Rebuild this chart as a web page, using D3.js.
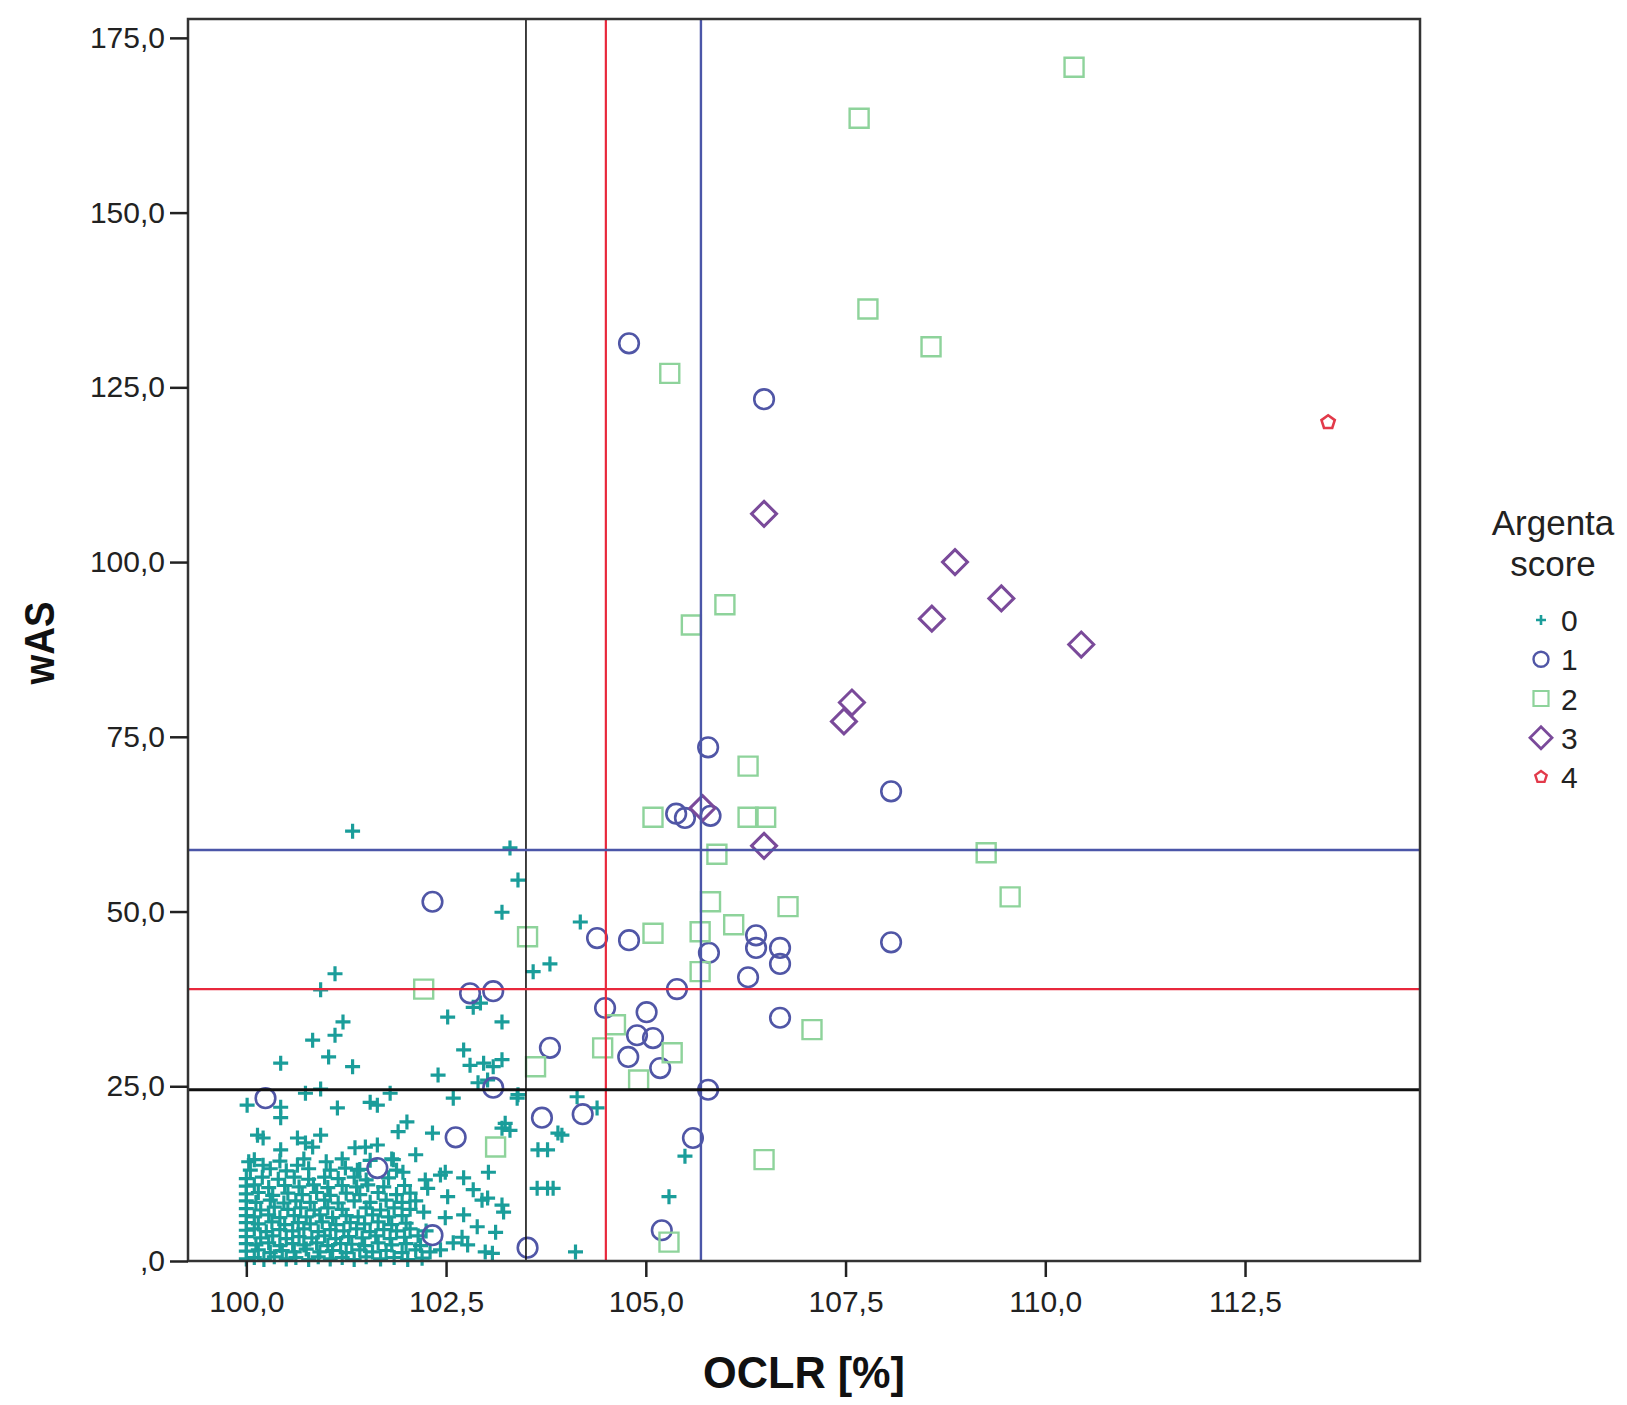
<!DOCTYPE html>
<html><head><meta charset="utf-8">
<script src="https://cdn.jsdelivr.net/npm/d3@7"></script>
<style>body{margin:0;background:#fff;} text{font-family:"Liberation Sans",Arial,sans-serif;}</style>
</head><body><svg id="c" width="1627" height="1405"></svg>
<script>
// ---------- DATA ----------
const xTicks = [100, 102.5, 105, 107.5, 110, 112.5];
const xTickLabels = ["100,0", "102,5", "105,0", "107,5", "110,0", "112,5"];
const yTicks = [0, 25, 50, 75, 100, 125, 150, 175];
const yTickLabels = [",0", "25,0", "50,0", "75,0", "100,0", "125,0", "150,0", "175,0"];
const legendLabels = ["0", "1", "2", "3", "4"];
const refXValues = [103.5, 104.5, 105.69];
const refYValues = [24.5, 38.9, 58.8];

// Argenta score 0 (plus)
const score0 = [
 [101.33,61.5],[103.30,59.1],[103.40,54.5],[103.20,49.9],[104.18,48.5],[103.59,41.4],[103.80,42.5],
 [101.11,41.1],[100.93,38.8],[102.84,36.3],[102.93,36.9],[102.52,34.9],[103.20,34.2],[101.21,34.2],
 [101.11,32.3],[100.83,31.6],[101.03,29.2],[101.33,27.8],[100.43,28.3],[102.72,30.2],[102.80,28.0],
 [102.97,28.3],[103.09,27.8],[103.20,28.8],[102.40,26.6],[103.02,25.9],[102.90,25.5],[103.40,23.8],
 [104.14,23.5],[104.39,21.9],[103.90,18.3],[103.20,19.0],[103.30,18.7],[103.24,19.7],[103.65,15.9],
 [103.77,15.9],[103.64,10.4],[103.77,10.4],[103.84,10.4],[104.12,1.3],[105.49,15.0],[105.29,9.2],
 [103.95,18.0],[102.59,23.3],[103.39,23.3],[102.33,18.3],[103.03,12.7],[102.49,12.7],[102.43,12.3],
 [102.24,11.6],[102.72,11.9],[102.84,10.2],[102.52,9.2],[102.27,10.4],[102.95,8.7],[103.02,9.0],
 [103.20,8.0],[103.22,7.0],[102.22,7.0],[102.49,6.2],[102.72,6.6],[102.89,4.9],[103.12,4.1],
 [102.70,3.4],[102.59,2.6],[102.77,2.3],[102.99,1.3],[103.08,1.1],[102.43,1.6],[101.80,24.0],
 [101.55,22.7],[101.64,22.3],[102.01,19.9],[101.90,18.5],[101.14,21.9],[100.74,24.0],[100.93,24.6],
 [100.01,22.3],[100.43,22.0],[100.43,20.5],[100.14,18.0],[100.21,17.6],[100.43,15.9],[100.64,17.6],
 [100.74,16.9],[100.83,16.3],[100.93,18.0],[100.03,14.2],[100.21,13.7],[100.64,13.7],[101.36,16.2],
 [101.49,16.3],[101.64,16.6],[102.12,15.2],[101.24,13.3],[101.39,13.0],[101.84,14.5],[101.96,12.7],
 [100.0,0.3],[100.1,0.5],[100.22,0.2],[100.35,0.6],[100.5,0.3],[100.62,0.5],[100.78,0.2],[100.9,0.6],
 [101.05,0.3],[101.2,0.5],[101.35,0.2],[101.5,0.6],[101.68,0.3],[101.85,0.5],[102.02,0.2],[102.2,0.4],
 [100.0,1.4],[100.15,1.6],[100.3,1.2],[100.45,1.5],[100.6,1.3],[100.75,1.7],[100.92,1.3],[101.08,1.5],
 [101.25,1.2],[101.42,1.6],[101.58,1.3],[101.75,1.5],[101.95,1.2],[102.12,1.6],[102.3,1.3],
 [100.0,2.5],[100.12,2.3],[100.28,2.6],[100.42,2.2],[100.58,2.5],[100.72,2.3],[100.88,2.6],[101.02,2.2],
 [101.18,2.5],[101.32,2.4],[101.48,2.2],[101.65,2.6],[101.82,2.3],[102.0,2.5],[102.18,2.2],
 [100.0,3.5],[100.18,3.3],[100.33,3.6],[100.5,3.2],[100.66,3.5],[100.82,3.3],[100.98,3.6],[101.12,3.2],
 [101.28,3.5],[101.45,3.3],[101.62,3.6],[101.8,3.2],[101.98,3.4],[102.15,3.6],
 [100.0,4.4],[100.1,4.6],[100.25,4.2],[100.42,4.5],[100.58,4.3],[100.72,4.6],[100.9,4.2],[101.05,4.5],
 [101.22,4.3],[101.38,4.6],[101.55,4.2],[101.72,4.5],[101.88,4.3],[102.05,4.6],[102.25,4.3],
 [100.0,5.5],[100.15,5.3],[100.32,5.6],[100.48,5.2],[100.65,5.5],[100.8,5.3],[100.95,5.6],[101.12,5.2],
 [101.3,5.5],[101.48,5.3],[101.65,5.6],[101.82,5.2],[102.0,5.4],
 [100.0,6.5],[100.1,6.3],[100.28,6.6],[100.42,6.2],[100.6,6.5],[100.75,6.3],[100.92,6.6],[101.08,6.2],
 [101.25,6.5],[101.4,6.3],[101.58,6.6],[101.78,6.3],[101.95,6.5],
 [100.0,7.5],[100.18,7.3],[100.35,7.7],[100.52,7.4],[100.68,7.6],[100.85,7.3],[101.02,7.6],[101.2,7.4],
 [101.5,7.6],[101.68,7.3],[101.85,7.6],[102.05,7.4],
 [100.0,8.6],[100.12,8.4],[100.3,8.7],[100.47,8.3],[100.62,8.6],[100.8,8.4],[100.98,8.7],[101.15,8.3],
 [101.35,8.6],[101.55,8.4],[101.75,8.7],[101.95,8.4],[102.12,8.6],
 [100.0,9.6],[100.15,9.8],[100.33,9.4],[100.52,9.7],[100.7,9.5],[100.88,9.8],[101.05,9.4],[101.25,9.7],
 [101.42,9.5],[101.65,9.8],[101.88,9.5],[102.05,9.7],
 [100.0,10.7],[100.1,10.9],[100.28,10.5],[100.48,10.8],[100.66,10.6],[100.84,10.9],[101.02,10.5],
 [101.2,10.8],[101.38,10.6],[101.52,10.9],[101.72,10.6],[101.98,10.8],
 [100.0,11.8],[100.2,12.0],[100.4,11.7],[100.6,12.0],[100.78,11.7],[100.98,12.0],[101.15,11.8],
 [101.35,12.0],[101.5,11.6],[101.78,11.9],
 [100.05,13.0],[100.3,13.2],[100.5,12.9],[100.78,13.2],[101.05,13.0],[101.42,13.1],[101.88,13.0],
 [100.1,14.5],[100.42,14.3],[100.72,14.6],[101.0,14.2],[101.2,14.6],[101.55,14.4],[101.82,14.6]
];

// Argenta score 1 (circle)
const score1 = [
 [104.79,131.3],[106.48,123.3],[105.78,73.5],[108.07,67.2],[105.38,64.0],[105.49,63.4],[105.81,63.7],
 [102.33,51.4],[104.39,46.2],[104.79,45.9],[108.07,45.6],[106.38,46.6],[106.38,44.8],[106.68,44.8],
 [106.68,42.5],[105.79,44.1],[106.28,40.6],[105.39,38.9],[102.80,38.3],[103.09,38.6],[104.49,36.2],
 [105.01,35.6],[106.68,34.8],[104.89,32.3],[105.09,31.9],[103.80,30.5],[104.78,29.2],[105.18,27.6],
 [103.09,24.8],[105.78,24.5],[104.21,21.0],[103.70,20.5],[102.62,17.7],[100.24,23.3],[105.59,17.6],
 [101.64,13.3],[102.33,3.7],[105.20,4.4],[103.52,1.9]
];

// Argenta score 2 (square)
const score2 = [
 [110.36,170.8],[107.67,163.5],[107.78,136.2],[108.57,130.8],[105.30,127.0],[105.99,93.9],[105.57,91.0],
 [106.28,70.8],[105.09,63.5],[106.28,63.5],[106.50,63.5],[105.89,58.2],[109.26,58.4],[109.56,52.1],
 [105.81,51.4],[106.78,50.7],[106.10,48.1],[103.52,46.4],[105.09,46.9],[105.68,47.1],[105.68,41.4],
 [102.22,38.9],[107.08,33.1],[104.62,33.8],[104.46,30.5],[105.33,29.8],[103.62,27.8],[104.91,25.9],
 [103.12,16.3],[106.48,14.5],[105.29,2.7]
];

// Argenta score 3 (diamond)
const score3 = [
 [106.48,106.9],[108.87,100.0],[109.45,94.8],[108.58,91.9],[110.45,88.2],[107.58,79.9],[107.48,77.2],
 [105.71,64.8],[106.48,59.4]
];

// Argenta score 4 (pentagon)
const score4 = [[113.54,120.0]];

// ---------- STYLE ----------
const colors = ["#1a9d9a", "#5056a6", "#8ed39b", "#7a4a9a", "#e23a4a"];
const refXColors = ["#111", "#e8283c", "#4b56a8"];
const refXWidths = [1.6, 2.2, 2.4];
const refYColors = ["#111", "#e8283c", "#4b56a8"];
const refYWidths = [3, 2.2, 2.4];

const svg = d3.select("#c");
const x = d3.scaleLinear().domain([99.27, 114.69]).range([188, 1420]);
const y = d3.scaleLinear().domain([0, 177.7]).range([1261, 19]);

function pentagon(r) {
  const pts = [];
  for (let i = 0; i < 5; i++) {
    const a = -Math.PI / 2 + i * 2 * Math.PI / 5;
    pts.push([r * Math.cos(a), r * Math.sin(a)]);
  }
  return "M" + pts.map(p => p.join(",")).join("L") + "Z";
}
const markerPath = [
  s => `M${-s},0H${s}M0,${-s}V${s}`,
  s => `M${-s},0A${s},${s} 0 1,0 ${s},0A${s},${s} 0 1,0 ${-s},0Z`,
  s => `M${-s},${-s}H${s}V${s}H${-s}Z`,
  s => `M0,${-s}L${s},0L0,${s}L${-s},0Z`,
  s => pentagon(s)
];
const plotSizes = [7.5, 9.8, 9.5, 12.5, 7];
const plotStroke = [3.2, 2.6, 2.4, 3, 2.6];
const legendSizes = [5, 7.5, 7.5, 11, 6];
const legendStroke = [2.6, 2.4, 2.2, 2.8, 2.4];

const series = [score0, score1, score2, score3, score4];
const gPts = svg.append("g");
series.forEach((data, k) => {
  gPts.append("g").selectAll("path").data(data).join("path")
    .attr("transform", d => `translate(${x(d[0])},${y(d[1])})`)
    .attr("d", markerPath[k](plotSizes[k]))
    .attr("fill", "none")
    .attr("stroke", colors[k])
    .attr("stroke-width", plotStroke[k]);
});

// reference lines
const gRef = svg.append("g");
refXValues.forEach((v, i) => {
  gRef.append("line").attr("x1", x(v)).attr("x2", x(v)).attr("y1", y.range()[1]).attr("y2", y.range()[0])
    .attr("stroke", refXColors[i]).attr("stroke-width", refXWidths[i]);
});
refYValues.forEach((v, i) => {
  gRef.append("line").attr("y1", y(v)).attr("y2", y(v)).attr("x1", x.range()[0]).attr("x2", x.range()[1])
    .attr("stroke", refYColors[i]).attr("stroke-width", refYWidths[i]);
});

// frame
svg.append("rect").attr("x", x.range()[0]).attr("y", y.range()[1])
  .attr("width", x.range()[1] - x.range()[0]).attr("height", y.range()[0] - y.range()[1])
  .attr("fill", "none").attr("stroke", "#333").attr("stroke-width", 2.5);

// axes
const yAxis = svg.append("g").attr("transform", `translate(${x.range()[0]},0)`)
  .call(d3.axisLeft(y).tickValues(yTicks).tickFormat((d, i) => yTickLabels[i]).tickSize(18).tickPadding(5));
const xAxis = svg.append("g").attr("transform", `translate(0,${y.range()[0]})`)
  .call(d3.axisBottom(x).tickValues(xTicks).tickFormat((d, i) => xTickLabels[i]).tickSize(16).tickPadding(14));
[yAxis, xAxis].forEach(a => {
  a.select(".domain").remove();
  a.selectAll(".tick line").attr("stroke", "#222").attr("stroke-width", 2.5);
  a.selectAll(".tick text").attr("fill", "#222").style("font-size", "30px")
    .style("font-family", '"Liberation Sans", Arial, sans-serif');
});

// axis titles
svg.append("text").attr("x", (x.range()[0] + x.range()[1]) / 2).attr("y", 1388)
  .attr("text-anchor", "middle").style("font-size", "45px").style("font-weight", "bold")
  .attr("textLength", 202).attr("lengthAdjust", "spacingAndGlyphs").attr("fill", "#111").text("OCLR [%]");
svg.append("text").attr("transform", "translate(54,643) rotate(-90)")
  .attr("text-anchor", "middle").style("font-size", "42px").style("font-weight", "bold")
  .attr("textLength", 83).attr("lengthAdjust", "spacingAndGlyphs").attr("fill", "#111").text("wAS");

// legend
const gLeg = svg.append("g");
gLeg.append("text").attr("x", 1553).attr("y", 535).attr("text-anchor", "middle")
  .style("font-size", "35px").attr("fill", "#222").text("Argenta");
gLeg.append("text").attr("x", 1553).attr("y", 576).attr("text-anchor", "middle")
  .style("font-size", "35px").attr("fill", "#222").text("score");
const legY = d3.scalePoint().domain(legendLabels).range([620, 777]);
legendLabels.forEach((lab, k) => {
  gLeg.append("path").attr("transform", `translate(1541,${legY(lab)})`)
    .attr("d", markerPath[k](legendSizes[k])).attr("fill", "none")
    .attr("stroke", colors[k]).attr("stroke-width", legendStroke[k]);
  gLeg.append("text").attr("x", 1561).attr("y", legY(lab) + 11).style("font-size", "30px")
    .attr("fill", "#222").text(lab);
});
</script></body></html>
